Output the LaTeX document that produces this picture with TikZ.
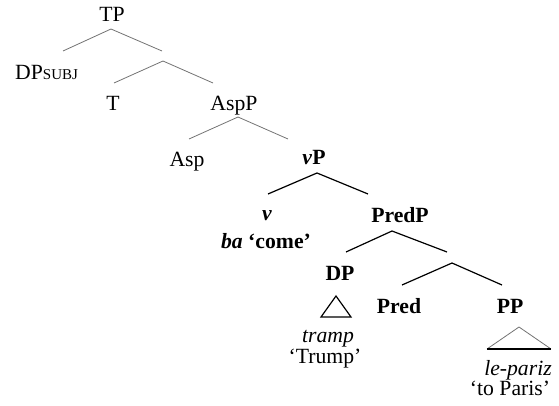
\documentclass[tikz,border=0pt]{standalone}
\usepackage{fontspec}
\setmainfont{Liberation Serif}
\begin{document}
\begin{tikzpicture}[x=1pt,y=-1pt,
  lbl/.style={inner sep=0pt,anchor=base,font=\fontsize{21.7}{24}\selectfont},
  thinline/.style={draw=black!55,line width=0.8pt},
  thickline/.style={draw=black,line width=1.2pt}]
\useasboundingbox (0,0) rectangle (559,406);
% labels
\node[lbl] (tp) at (112,22) {TP};
\node[lbl,anchor=base west] (dps) at (15,80) {DP{\fontsize{15}{15}\selectfont SUBJ}};
\node[lbl] (t) at (113,111) {T};
\node[lbl] (aspp) at (234,111) {AspP};
\node[lbl] (asp) at (187,167) {Asp};
\node[lbl] (vp) at (314,165) {\textbf{\textit{v}P}};
\node[lbl] (v) at (267,220) {\textbf{\textit{v}}};
\node[lbl] (ba) at (266,248) {\textbf{\textit{ba} ‘come’}};
\node[lbl] (predp) at (400,222) {\textbf{PredP}};
\node[lbl] (dp) at (340,280) {\textbf{DP}};
\node[lbl] (pred) at (399,313) {\textbf{Pred}};
\node[lbl] (pp) at (510,313) {\textbf{PP}};
\node[lbl] (tramp) at (328,342) {\textit{tramp}};
\node[lbl] (trump) at (325,363) {‘Trump’};
\node[lbl] (lepariz) at (518,375) {\textit{le-pariz}};
\node[lbl] (paris) at (510,395) {‘to Paris’};
% branch points
\coordinate (a1) at (111,29);  \coordinate (a1l) at (63,51);  \coordinate (a1r) at (162,51);
\coordinate (a2) at (163,61);  \coordinate (a2l) at (114,83); \coordinate (a2r) at (213,83);
\coordinate (a3) at (238,117); \coordinate (a3l) at (189,139); \coordinate (a3r) at (288,139);
\coordinate (a4) at (317,173); \coordinate (a4l) at (268,194); \coordinate (a4r) at (368,194);
\coordinate (a5) at (392,231); \coordinate (a5l) at (346,252); \coordinate (a5r) at (447,252);
\coordinate (a6) at (452,263); \coordinate (a6l) at (402,285); \coordinate (a6r) at (502,285);
\draw[thinline] (a1l) -- (a1) -- (a1r);
\draw[thinline] (a2l) -- (a2) -- (a2r);
\draw[thinline] (a3l) -- (a3) -- (a3r);
\draw[thickline] (a4l) -- (a4) -- (a4r);
\draw[thickline] (a5l) -- (a5) -- (a5r);
\draw[thickline] (a6l) -- (a6) -- (a6r);
% triangles
\coordinate (t1) at (336,296); \coordinate (t1l) at (321,317); \coordinate (t1r) at (351,317);
\draw[thickline,line join=miter] (t1) -- (t1l) -- (t1r) -- cycle;
\coordinate (t2) at (519,327); \coordinate (t2l) at (487,349); \coordinate (t2r) at (551,349);
\draw[thinline] (t2l) -- (t2) -- (t2r);
\draw[thickline] (t2l) -- (t2r);
\end{tikzpicture}
\end{document}
